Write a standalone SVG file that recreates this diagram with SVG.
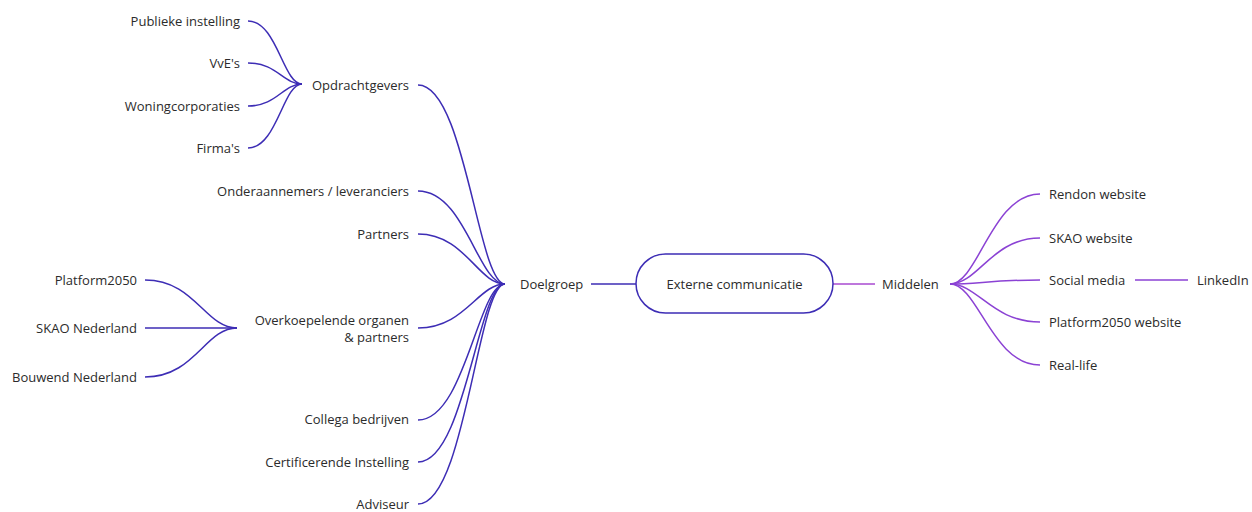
<svg xmlns="http://www.w3.org/2000/svg" width="1252" height="512" viewBox="0 0 1252 512">
<style>
text{font-family:"Open Sans","Noto Sans","Liberation Sans",sans-serif;font-size:13px;fill:#2b2b2b}
.r{text-anchor:end}
.l{fill:none;stroke:#3d2db5;stroke-width:1.5}
.p{fill:none;stroke:#8b42d4;stroke-width:1.5}
</style>
<rect width="1252" height="512" fill="#fff"/>
<g id="connectors">
<path class="l" d="M591 284H636"/>
<path class="p" style="stroke:#a84ad0" d="M833 284H875"/>
<path class="l" d="M418 85C465 85 478 284 505 284"/>
<path class="l" d="M418 191C465 191 478 284 505 284"/>
<path class="l" d="M418 234C465 234 478 284 505 284"/>
<path class="l" d="M418 328C465 328 478 284 505 284"/>
<path class="l" d="M418 420C465 420 478 284 505 284"/>
<path class="l" d="M418 462C465 462 478 284 505 284"/>
<path class="l" d="M418 504C465 504 478 284 505 284"/>
<path class="l" d="M248 21C277 21 283 84 302 84"/>
<path class="l" d="M248 63C277 63 283 84 302 84"/>
<path class="l" d="M248 106C277 106 283 84 302 84"/>
<path class="l" d="M248 148C277 148 283 84 302 84"/>
<path class="l" d="M145 280C195 280 205 328 237 328"/>
<path class="l" d="M145 328H237"/>
<path class="l" d="M145 377C195 377 205 328 237 328"/>
<path class="p" d="M1040 194C992 194 978 284 950 284"/>
<path class="p" d="M1040 238C992 238 978 284 950 284"/>
<path class="p" d="M1040 280C992 280 978 284 950 284"/>
<path class="p" d="M1040 322C992 322 978 284 950 284"/>
<path class="p" d="M1040 365C992 365 978 284 950 284"/>
<path class="p" d="M1135 280H1188"/>
</g>
<g id="root"><rect x="636" y="254" width="197" height="59" rx="29.5" fill="#fff" stroke="#3d2db5" stroke-width="1.5"/><text x="734.5" y="288.5" text-anchor="middle">Externe communicatie</text></g>
<g id="doelgroep"><text x="520" y="288.5">Doelgroep</text></g>
<g id="middelen"><text x="882" y="288.5">Middelen</text></g>
<g id="opdrachtgevers"><text x="312" y="89.5">Opdrachtgevers</text></g>
<g id="publieke"><text class="r" x="240" y="25.5">Publieke instelling</text></g>
<g id="vve"><text class="r" x="240" y="67.5">VvE's</text></g>
<g id="woning"><text class="r" x="240" y="110.5">Woningcorporaties</text></g>
<g id="firmas"><text class="r" x="240" y="152.5">Firma's</text></g>
<g id="onderaannemers"><text class="r" x="409" y="195.5">Onderaannemers / leveranciers</text></g>
<g id="partners"><text class="r" x="409" y="238.5">Partners</text></g>
<g id="overkoepelende"><text class="r" x="409" y="324.5">Overkoepelende organen</text><text class="r" x="409" y="341.5">&amp; partners</text></g>
<g id="platform2050"><text class="r" x="137" y="284.5">Platform2050</text></g>
<g id="skaonl"><text class="r" x="137" y="332.5">SKAO Nederland</text></g>
<g id="bouwend"><text class="r" x="137" y="381.5">Bouwend Nederland</text></g>
<g id="collega"><text class="r" x="409" y="423.5">Collega bedrijven</text></g>
<g id="certificerende"><text class="r" x="409" y="466.5">Certificerende Instelling</text></g>
<g id="adviseur"><text class="r" x="409" y="508.5">Adviseur</text></g>
<g id="rendon"><text x="1049" y="198.5">Rendon website</text></g>
<g id="skaoweb"><text x="1049" y="242.5">SKAO website</text></g>
<g id="social"><text x="1049" y="284.5">Social media</text></g>
<g id="p2050web"><text x="1049" y="326.5">Platform2050 website</text></g>
<g id="reallife"><text x="1049" y="369.5">Real-life</text></g>
<g id="linkedin"><text x="1197" y="284.5">LinkedIn</text></g>
</svg>
